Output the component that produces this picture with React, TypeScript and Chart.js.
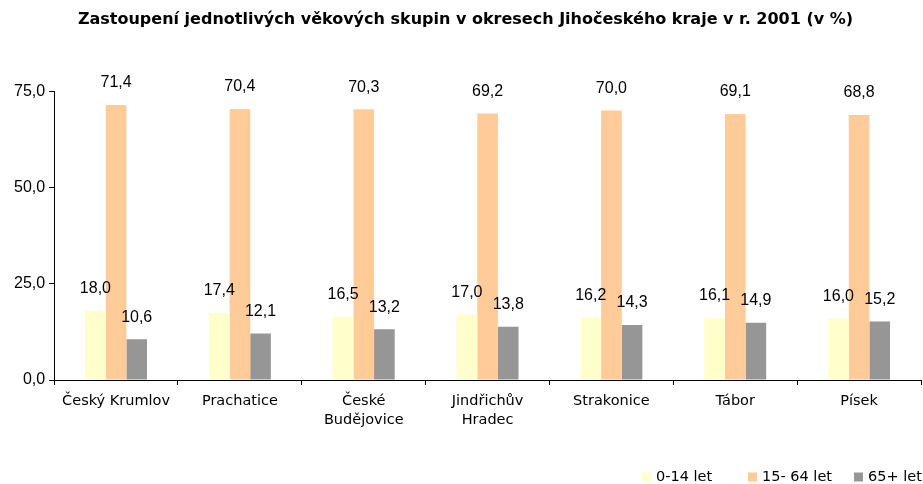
import { useEffect, useRef } from "react";
import { Chart, registerables } from "chart.js";

Chart.register(...registerables);

const districts: (string | string[])[] = [
  "Český Krumlov",
  "Prachatice",
  ["České", "Budějovice"],
  ["Jindřichův", "Hradec"],
  "Strakonice",
  "Tábor",
  "Písek",
];
const age0to14 = [18.0, 17.4, 16.5, 17.0, 16.2, 16.1, 16.0];
const age15to64 = [71.4, 70.4, 70.3, 69.2, 70.0, 69.1, 68.8];
const age65plus = [10.6, 12.1, 13.2, 13.8, 14.3, 14.9, 15.2];
const seriesLabels = ["0-14 let", "15- 64 let", "65+ let"];
const seriesColors = ["#FFFFCC", "#FFCC99", "#969696"];
const yTicks = [0, 25, 50, 75];
const titleText =
  "Zastoupení jednotlivých věkových skupin v okresech Jihočeského kraje v r. 2001 (v %)";

const fmt = (v: number) => v.toFixed(1).replace(".", ",");

const valueLabels = {
  id: "valueLabels",
  afterDatasetsDraw(chart: any) {
    const ctx = chart.ctx;
    ctx.save();
    ctx.font = "16px 'Liberation Sans', Arial, sans-serif";
    ctx.fillStyle = "#000";
    ctx.textAlign = "center";
    ctx.textBaseline = "middle";
    chart.data.datasets.forEach((ds: any, i: number) => {
      const meta = chart.getDatasetMeta(i);
      meta.data.forEach((el: any, j: number) => {
        ctx.fillText(fmt(ds.data[j]), el.x, el.y - 22);
      });
    });
    ctx.restore();
  },
};

const customLegend = {
  id: "customLegend",
  afterDraw(chart: any) {
    const ctx = chart.ctx;
    ctx.save();
    ctx.font = "14.5px 'DejaVu Sans', Verdana, sans-serif";
    ctx.textBaseline = "middle";
    ctx.textAlign = "left";
    const box = 9;
    const gap = 5;
    const slot = 106;
    const yc = 477;
    const lastBoxX = chart.width - 69;
    const n = chart.data.datasets.length;
    chart.data.datasets.forEach((d: any, i: number) => {
      const bx = lastBoxX - (n - 1 - i) * slot;
      ctx.fillStyle = d.backgroundColor;
      ctx.fillRect(bx, yc - box / 2, box, box);
      ctx.fillStyle = "#000";
      ctx.fillText(d.label, bx + box + gap, yc);
    });
    ctx.restore();
  },
};

export default function App() {
  const ref = useRef<HTMLCanvasElement | null>(null);
  useEffect(() => {
    if (!ref.current) return;
    const chart = new Chart(ref.current, {
      type: "bar",
      data: {
        labels: districts,
        datasets: [
          { label: seriesLabels[0], data: age0to14, backgroundColor: seriesColors[0] },
          { label: seriesLabels[1], data: age15to64, backgroundColor: seriesColors[1] },
          { label: seriesLabels[2], data: age65plus, backgroundColor: seriesColors[2] },
        ],
      },
      options: {
        responsive: false,
        animation: false,
        categoryPercentage: 0.5,
        barPercentage: 1,
        layout: { padding: { left: 10, right: 2, top: 0, bottom: 0 } },
        plugins: {
          legend: { display: false },
          tooltip: { enabled: false },
          title: {
            display: true,
            text: titleText,
            color: "#000",
            font: { family: "'DejaVu Sans', Tahoma, sans-serif", size: 16, weight: "bold" },
            padding: { top: 10, bottom: 62 },
          },
        },
        scales: {
          x: {
            grid: {
              offset: true,
              drawOnChartArea: false,
              drawTicks: true,
              tickLength: 5,
              color: "#000",
            },
            border: { display: true, color: "#000" },
            ticks: {
              color: "#000",
              maxRotation: 0,
              autoSkip: false,
              padding: 7,
              font: { family: "'DejaVu Sans', Verdana, sans-serif", size: 14.5, lineHeight: 1.31 },
            },
            afterFit: (scale: any) => {
              scale.height = 104;
            },
          },
          y: {
            min: 0,
            max: 75,
            afterBuildTicks: (scale: any) => {
              scale.ticks = yTicks.map((v) => ({ value: v }));
            },
            grid: {
              drawOnChartArea: false,
              drawTicks: true,
              tickLength: 5,
              color: "#000",
            },
            border: { display: true, color: "#000" },
            ticks: {
              color: "#000",
              padding: 4,
              font: { family: "'Liberation Sans', Arial, sans-serif", size: 16 },
              callback: (v: any) => fmt(Number(v)),
            },
          },
        },
      },
      plugins: [valueLabels, customLegend],
    });
    return () => chart.destroy();
  }, []);
  return (
    <div style={{ position: "absolute", left: 0, top: 0, width: 923, height: 484, background: "#fff" }}>
      <canvas ref={ref} width={923} height={484} style={{ display: "block" }} />
    </div>
  );
}
